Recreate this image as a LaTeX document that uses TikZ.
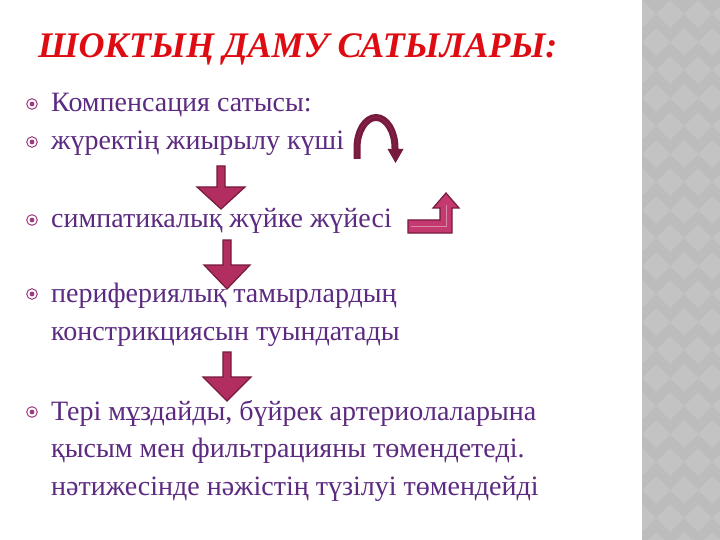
\documentclass[tikz,border=0pt]{standalone}
\usepackage{fontspec}
\setmainfont{Liberation Serif}
\definecolor{titlered}{RGB}{222,12,18}
\definecolor{itemtext}{RGB}{92,42,128}
\definecolor{bulletc}{RGB}{158,58,128}
\definecolor{arrowfill}{RGB}{178,46,96}
\definecolor{arrowline}{RGB}{118,26,62}
\definecolor{bendfill}{RGB}{196,58,112}
\definecolor{stripgray}{RGB}{188,188,188}
\definecolor{stripdiam}{RGB}{195,195,195}
\tikzset{
  itemtext/.style={anchor=base west, inner sep=0pt, text=itemtext, align=left,
    font=\fontsize{28}{37.5}\selectfont},
  blockarrow/.style={fill=arrowfill, draw=arrowline, line width=1.2pt, line join=miter},
}
\newcommand{\itembullet}[2]{%
  \draw[bulletc, line width=1pt] (#1,#2) circle (5.3);
  \fill[bulletc] (#1,#2) circle (2.4);}
\newcommand{\downblock}[5]{% x, top, head base, tip, half width
  \draw[blockarrow] (#1-4,#2) -- (#1+4,#2) -- (#1+4,#3) -- (#1+#5,#3) -- (#1,#4)
    -- (#1-#5,#3) -- (#1-4,#3) -- cycle;}
\begin{document}
\begin{tikzpicture}[x=1pt,y=-1pt]
    \useasboundingbox (0,0) rectangle (720,540);
    \fill[white] (0,0) rectangle (720,540);

    % grey strip on the right
    \begin{scope}
      \clip (642,0) rectangle (720,540);
      \fill[stripgray] (642,0) rectangle (720,540);
      \foreach \j in {0,...,20} {
        \foreach \i in {0,...,3} {
          \fill[stripdiam] ({642+\i*28+mod(\j,2)*14},{\j*28}) -- ++(14,14)
            -- ++(-14,14) -- ++(-14,-14) -- cycle;
        }
      }
    \end{scope}

    % title
    \node[anchor=base west, inner sep=0pt, text=titlered,
      font=\fontsize{36}{40}\selectfont\bfseries\itshape] (title) at (38,58)
      {ШОКТЫҢ ДАМУ САТЫЛАРЫ:};

    % items (multi-line nodes sit on their last line)
    \node[itemtext] (comp) at (51,112) {Компенсация сатысы:};
    \node[itemtext] (heart) at (51,150) {жүректің жиырылу күші};
    \node[itemtext] (symp) at (51,228) {симпатикалық жүйке жүйесі};
    \node[itemtext] (periph) at (51,340) {перифериялық тамырлардың\\констрикциясын туындатады};
    \node[itemtext] (skin) at (51,495) {Тері мұздайды, бүйрек артериолаларына\\қысым мен фильтрацияны төмендетеді.\\нәтижесінде нәжістің түзілуі төмендейді};

    \itembullet{32}{104}
    \itembullet{32}{142}
    \itembullet{32}{220}
    \itembullet{32}{294}
    \itembullet{32}{412}

    % down arrows
    \downblock{221}{166}{187}{209}{24}
    \downblock{227}{240}{265}{289}{23}
    \downblock{227}{352}{377}{401}{24}

    % curved arrow
    \draw[arrowline, line width=7pt] (357,159) -- (357,148) arc[start angle=180, end angle=360,
      x radius=19, y radius=30.5] -- (395,150);
    \draw[arrowline!55!arrowfill, line width=0.8pt] (357,158) -- (357,148) arc[start angle=180, end angle=360,
      x radius=19, y radius=30.5] -- (395,150);
    \fill[arrowline] (387.5,149) -- (403.5,149) -- (395.5,163) -- cycle;

    % bent arrow
    \draw[blockarrow, fill=bendfill] (408,220) -- (440,220) -- (440,208) -- (433,208) -- (446,193)
      -- (459,208) -- (452,208) -- (452,233) -- (408,233) -- cycle;
    \draw[bendfill!60!white, line width=0.8pt] (411,226.5) -- (446,226.5) -- (446,205);
\end{tikzpicture}
\end{document}
